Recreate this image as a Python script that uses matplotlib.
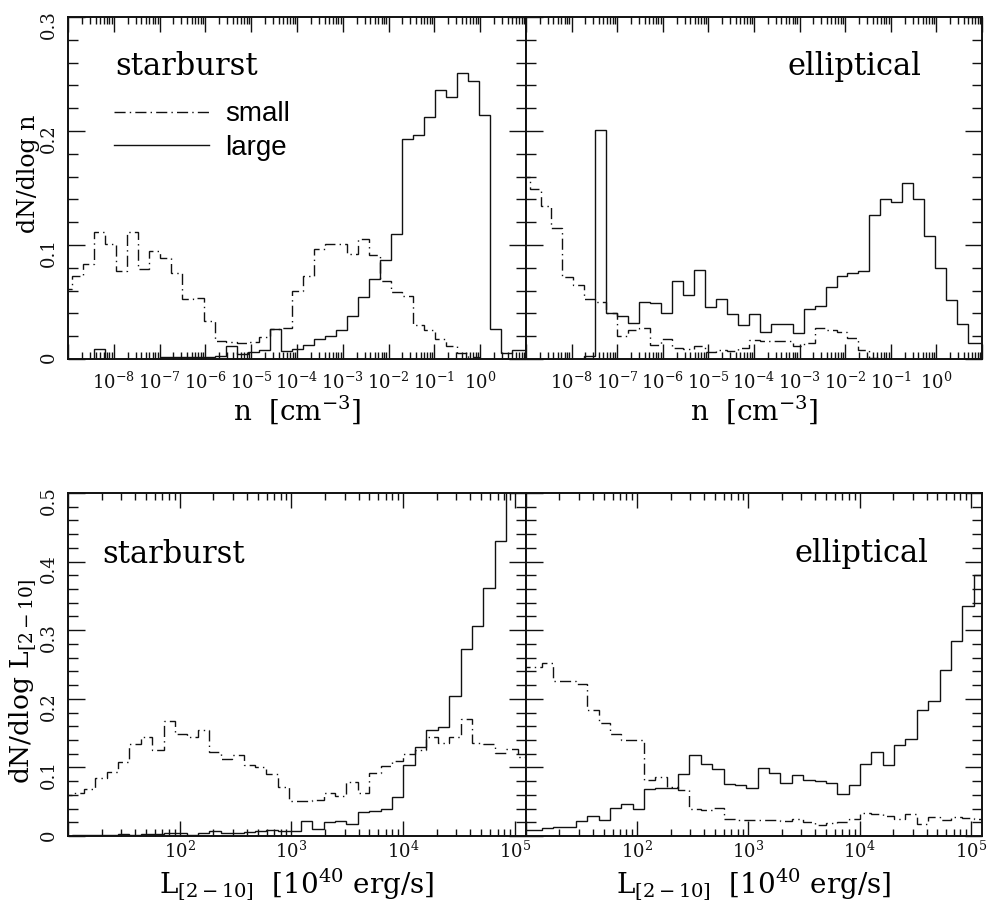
import numpy as np
import matplotlib.pyplot as plt
from matplotlib.lines import Line2D
from matplotlib.ticker import LogLocator, MultipleLocator, NullFormatter

plt.rcParams['font.family'] = 'DejaVu Serif'
plt.rcParams['mathtext.fontset'] = 'dejavuserif'

# bins in log10
n_lo, n_w = -9.162, 0.2404
L_lo, L_w = 0.937, 0.1022

# density histograms, dN/dlog n
sb_n_small = [0.061, 0.073, 0.083, 0.111, 0.101, 0.0775, 0.111, 0.079, 0.095, 0.0886,
              0.0754, 0.0526, 0.0535, 0.0336, 0.0155, 0.015, 0.014, 0.0145, 0.019, 0.026,
              0.027, 0.060, 0.0725, 0.0965, 0.101, 0.101, 0.092, 0.105, 0.091, 0.068,
              0.0588, 0.0555, 0.030, 0.0257, 0.0175, 0.0117, 0.005, 0.002, 0.0, 0.0,
              0.0, 0.0, 0.0]
sb_n_large = [0.0, 0.0, 0.0, 0.009, 0.0, 0.0, 0.0, 0.0, 0.0, 0.002,
              0.002, 0.002, 0.002, 0.002, 0.003, 0.011, 0.0045, 0.0065, 0.0075, 0.026,
              0.0067, 0.009, 0.012, 0.0175, 0.020, 0.0257, 0.0377, 0.0546, 0.0704, 0.087,
              0.110, 0.193, 0.196, 0.212, 0.236, 0.230, 0.251, 0.244, 0.214, 0.026,
              0.005, 0.008, 0.008]
el_n_small = [0.160, 0.149, 0.1345, 0.115, 0.072, 0.065, 0.0526, 0.0497, 0.040, 0.020,
              0.025, 0.027, 0.0126, 0.0175, 0.0096, 0.0088, 0.011, 0.0058, 0.0076, 0.0067,
              0.0096, 0.0164, 0.0155, 0.0155, 0.0155, 0.011, 0.014, 0.027, 0.0257, 0.024,
              0.018, 0.0076, 0.001, 0.0, 0.0, 0.0, 0.0, 0.0, 0.0, 0.0,
              0.0, 0.0, 0.0]
el_n_large = [0.0, 0.0, 0.0, 0.0, 0.0, 0.0, 0.003, 0.2006, 0.0404, 0.038,
              0.0316, 0.050, 0.049, 0.040, 0.068, 0.056, 0.078, 0.046, 0.0526, 0.0395,
              0.030, 0.039, 0.0234, 0.031, 0.031, 0.0228, 0.0439, 0.0468, 0.063, 0.073,
              0.0754, 0.0775, 0.126, 0.140, 0.1377, 0.154, 0.140, 0.1076, 0.080, 0.052,
              0.031, 0.014, 0.014]

# dN/dlog L
sb_L_small = [0.060, 0.062, 0.068, 0.085, 0.093, 0.108, 0.134, 0.144, 0.125, 0.168,
              0.149, 0.144, 0.154, 0.123, 0.113, 0.118, 0.104, 0.101, 0.090, 0.071,
              0.051, 0.051, 0.053, 0.062, 0.058, 0.079, 0.063, 0.092, 0.102, 0.110,
              0.119, 0.125, 0.144, 0.135, 0.144, 0.171, 0.136, 0.134, 0.121, 0.127,
              0.115]
sb_L_large = [0.0005, 0.001, 0.001, 0.001, 0.001, 0.003, 0.002, 0.003, 0.003, 0.005,
              0.005, 0.002, 0.004, 0.007, 0.004, 0.004, 0.006, 0.007, 0.009, 0.007,
              0.007, 0.022, 0.010, 0.020, 0.022, 0.018, 0.035, 0.036, 0.040, 0.057,
              0.103, 0.130, 0.154, 0.159, 0.204, 0.273, 0.306, 0.361, 0.430, 0.56,
              0.60]
el_L_small = [0.247, 0.247, 0.2527, 0.2255, 0.2255, 0.222, 0.184, 0.165, 0.149, 0.140,
              0.140, 0.082, 0.086, 0.0714, 0.0666, 0.040, 0.0374, 0.0413, 0.0253, 0.0238,
              0.0238, 0.0238, 0.023, 0.022, 0.025, 0.020, 0.0155, 0.019, 0.020, 0.0253,
              0.0335, 0.0325, 0.0287, 0.0253, 0.0325, 0.018, 0.0277, 0.0238, 0.0277, 0.0267,
              0.0253]
el_L_large = [0.009, 0.009, 0.011, 0.013, 0.013, 0.022, 0.0287, 0.024, 0.041, 0.047,
              0.040, 0.069, 0.070, 0.0705, 0.090, 0.1176, 0.1045, 0.098, 0.0763, 0.0739,
              0.070, 0.0996, 0.0918, 0.0773, 0.0894, 0.0811, 0.0797, 0.0773, 0.0617, 0.0748,
              0.1045, 0.1224, 0.103, 0.133, 0.142, 0.183, 0.197, 0.2415, 0.285, 0.335,
              0.38]

n_decades = list(range(-9, 2))
n_labels = ['' if e in (-9, 1) else r'$10^{%d}$' % e for e in n_decades]
L_decades = list(range(1, 6))
L_labels = ['' if e == 1 else r'$10^{%d}$' % e for e in L_decades]

n_edges = 10.0 ** (n_lo + n_w * np.arange(len(sb_n_small) + 1))
L_edges = 10.0 ** (L_lo + L_w * np.arange(len(sb_L_small) + 1))

dashdot = (0, (8, 3, 1, 3))
col = '#111111'

fig = plt.figure(figsize=(9.9, 9.15), dpi=100)
ax_tl = fig.add_axes([0.0687, 0.6077, 0.4626, 0.3738])
ax_tr = fig.add_axes([0.5313, 0.6077, 0.4606, 0.3738])
ax_bl = fig.add_axes([0.0687, 0.0863, 0.4626, 0.3749])
ax_br = fig.add_axes([0.5313, 0.0863, 0.4606, 0.3749])


def style(ax, decades, labels, ymax, left):
    ax.set_xscale('log')
    ax.set_xlim(10.0 ** decades[0], 10.0 ** (decades[-1] if ymax < 0.4 else 5.1))
    ax.set_ylim(0, ymax)
    ax.set_xticks([10.0 ** e for e in decades], labels=labels)
    ax.xaxis.set_minor_locator(LogLocator(base=10, subs=range(2, 10), numticks=50))
    ax.xaxis.set_minor_formatter(NullFormatter())
    yt = np.arange(0, ymax + 0.001, 0.1)
    ax.set_yticks(yt, labels=['0'] + ['%.1f' % v for v in yt[1:]])
    ax.yaxis.set_minor_locator(MultipleLocator(0.02))
    ax.tick_params(which='both', direction='in', top=True, right=True, width=1.0,
                   labelsize=13, colors=col)
    ax.tick_params(axis='x', which='major', length=11)
    ax.tick_params(axis='x', which='minor', length=5)
    ax.tick_params(axis='y', which='major', length=12, labelrotation=90, pad=7)
    ax.tick_params(axis='y', which='minor', length=7)
    if not left:
        ax.tick_params(labelleft=False)
    for s in ax.spines.values():
        s.set_linewidth(1.4)
        s.set_color(col)


# top row: gas density
for ax, small, large, name, ha, tx in [(ax_tl, sb_n_small, sb_n_large, 'starburst', 'left', 0.103),
                                        (ax_tr, el_n_small, el_n_large, 'elliptical', 'right', 0.868)]:
    ax.stairs(small, n_edges, baseline=None, color=col, lw=1.0, ls=dashdot)
    ax.stairs(large, n_edges, baseline=None, color=col, lw=1.0)
    style(ax, n_decades, n_labels, 0.3, ax is ax_tl)
    ax.tick_params(axis='x', pad=9)
    ax.text(tx, 0.830, name, transform=ax.transAxes, ha=ha, va='baseline', fontsize=22)
    ax.set_xlabel(r'n  [cm$^{-3}$]', fontsize=20)
    ax.xaxis.set_label_coords(0.5, -0.1)

# bottom row: 2-10 keV luminosity
for ax, small, large, name, ha, tx, ty in [(ax_bl, sb_L_small, sb_L_large, 'starburst', 'left', 0.074, 0.796),
                                            (ax_br, el_L_small, el_L_large, 'elliptical', 'right', 0.882, 0.800)]:
    ax.stairs(small, L_edges, baseline=None, color=col, lw=1.0, ls=dashdot)
    ax.stairs(large, L_edges, baseline=None, color=col, lw=1.0)
    style(ax, L_decades, L_labels, 0.5, ax is ax_bl)
    ax.tick_params(axis='x', pad=3)
    ax.text(tx, ty, name, transform=ax.transAxes, ha=ha, va='baseline', fontsize=22)
    ax.set_xlabel(r'L$_{[2-10]}$  [10$^{40}$ erg/s]', fontsize=20)
    ax.xaxis.set_label_coords(0.5, -0.09)

ax_tl.set_ylabel('dN/dlog n', fontsize=17)
ax_tl.yaxis.set_label_coords(-0.062, 0.54)
ax_bl.set_ylabel(r'dN/dlog L$_{[2-10]}$', fontsize=19)
ax_bl.yaxis.set_label_coords(-0.064, 0.45)

handles = [Line2D([], [], color=col, lw=1.0, ls=dashdot),
           Line2D([], [], color=col, lw=1.0)]
ax_tl.legend(handles, ['small', 'large'], loc='upper left', bbox_to_anchor=(0.101, 0.753),
             frameon=False, handlelength=3.4, handletextpad=0.6, labelspacing=0.27,
             borderpad=0, borderaxespad=0,
             prop={'family': 'Liberation Sans', 'size': 20})

fig.savefig('out.png', dpi=100)
